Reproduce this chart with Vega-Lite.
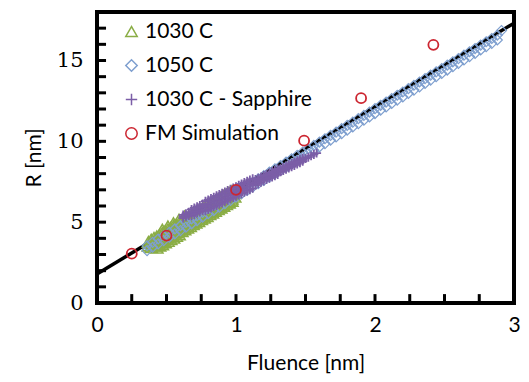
{
"$schema": "https://vega.github.io/schema/vega-lite/v6.json",
"width": 417, "height": 291,
"autosize": {"type": "none"},
"padding": {"left": 97, "top": 12, "right": 15, "bottom": 79},
"background": "white",
"config": {
  "view": {"stroke": "black", "strokeWidth": 4},
  "axis": {"grid": false, "domain": false, "ticks": false, "labelColor": "black", "titleColor": "black", "titleFontWeight": "normal", "labelFlush": false},
  "legend": {"labelFont": "Lato", "labelFontSize": 21, "labelColor": "black", "labelLimit": 400, "symbolStrokeWidth": 1.5, "symbolSize": 130, "rowPadding": 12, "labelOffset": 3, "padding": 0}
},
"datasets": {
  "fit": [{"x": 0, "y": 1.8}, {"x": 3, "y": 17.31}],
  "xt": [{"x":0.25,"y":0,"y2":0.55},{"x":0.5,"y":0,"y2":0.55},{"x":0.75,"y":0,"y2":0.55},{"x":1,"y":0,"y2":0.55},{"x":1.25,"y":0,"y2":0.55},{"x":1.5,"y":0,"y2":0.55},{"x":1.75,"y":0,"y2":0.55},{"x":2,"y":0,"y2":0.55},{"x":2.25,"y":0,"y2":0.55},{"x":2.5,"y":0,"y2":0.55},{"x":2.75,"y":0,"y2":0.55}],
  "yt": [{"y":1,"x":0,"x2":0.065},{"y":2,"x":0,"x2":0.065},{"y":3,"x":0,"x2":0.065},{"y":4,"x":0,"x2":0.065},{"y":5,"x":0,"x2":0.065},{"y":6,"x":0,"x2":0.065},{"y":7,"x":0,"x2":0.065},{"y":8,"x":0,"x2":0.065},{"y":9,"x":0,"x2":0.065},{"y":10,"x":0,"x2":0.065},{"y":11,"x":0,"x2":0.065},{"y":12,"x":0,"x2":0.065},{"y":13,"x":0,"x2":0.065},{"y":14,"x":0,"x2":0.065},{"y":15,"x":0,"x2":0.065},{"y":16,"x":0,"x2":0.065},{"y":17,"x":0,"x2":0.065}],
  "g": [
    {"x":0.37,"y":3.55},{"x":0.37,"y":3.78},
    {"x":0.39,"y":3.45},{"x":0.39,"y":3.70},{"x":0.39,"y":3.92},
    {"x":0.41,"y":3.55},{"x":0.41,"y":3.78},{"x":0.41,"y":4.02},
    {"x":0.43,"y":3.42},{"x":0.43,"y":3.65},{"x":0.43,"y":3.90},{"x":0.43,"y":4.12},
    {"x":0.45,"y":3.55},{"x":0.45,"y":3.74},{"x":0.45,"y":4.00},{"x":0.45,"y":4.22},
    {"x":0.47,"y":3.63},{"x":0.47,"y":3.86},{"x":0.47,"y":4.10},{"x":0.47,"y":4.33},{"x":0.47,"y":4.53},
    {"x":0.49,"y":3.75},{"x":0.49,"y":3.95},{"x":0.49,"y":4.20},{"x":0.49,"y":4.44},
    {"x":0.51,"y":3.84},{"x":0.51,"y":4.06},{"x":0.51,"y":4.30},{"x":0.51,"y":4.55},{"x":0.51,"y":4.74},
    {"x":0.53,"y":3.95},{"x":0.53,"y":4.16},{"x":0.53,"y":4.42},{"x":0.53,"y":4.64},
    {"x":0.55,"y":4.04},{"x":0.55,"y":4.26},{"x":0.55,"y":4.52},{"x":0.55,"y":4.75},{"x":0.55,"y":4.94},
    {"x":0.57,"y":4.15},{"x":0.57,"y":4.37},{"x":0.57,"y":4.62},{"x":0.57,"y":4.85},
    {"x":0.59,"y":4.25},{"x":0.59,"y":4.47},{"x":0.59,"y":4.73},{"x":0.59,"y":4.95},{"x":0.59,"y":5.15},
    {"x":0.61,"y":4.45},{"x":0.61,"y":4.58},{"x":0.61,"y":4.82},{"x":0.61,"y":5.06},
    {"x":0.63,"y":4.56},{"x":0.63,"y":4.68},{"x":0.63,"y":4.93},{"x":0.63,"y":5.16},{"x":0.63,"y":5.36},
    {"x":0.65,"y":4.66},{"x":0.65,"y":4.78},{"x":0.65,"y":5.03},{"x":0.65,"y":5.27},
    {"x":0.67,"y":4.76},{"x":0.67,"y":4.89},{"x":0.67,"y":5.13},{"x":0.67,"y":5.36},
    {"x":0.69,"y":4.87},{"x":0.69,"y":4.99},{"x":0.69,"y":5.24},{"x":0.69,"y":5.47},
    {"x":0.71,"y":4.97},{"x":0.71,"y":5.10},{"x":0.71,"y":5.34},{"x":0.71,"y":5.58},
    {"x":0.73,"y":5.07},{"x":0.73,"y":5.20},{"x":0.73,"y":5.45},{"x":0.73,"y":5.68},
    {"x":0.75,"y":5.18},{"x":0.75,"y":5.30},{"x":0.75,"y":5.55},{"x":0.75,"y":5.79},
    {"x":0.77,"y":5.28},{"x":0.77,"y":5.41},{"x":0.77,"y":5.65},{"x":0.77,"y":5.89},
    {"x":0.79,"y":5.38},{"x":0.79,"y":5.51},{"x":0.79,"y":5.76},{"x":0.79,"y":6.00},
    {"x":0.81,"y":5.49},{"x":0.81,"y":5.62},{"x":0.81,"y":5.86},{"x":0.81,"y":6.10},
    {"x":0.83,"y":5.59},{"x":0.83,"y":5.72},{"x":0.83,"y":5.96},{"x":0.83,"y":6.20},
    {"x":0.85,"y":5.70},{"x":0.85,"y":5.82},{"x":0.85,"y":6.07},{"x":0.85,"y":6.30},
    {"x":0.87,"y":5.80},{"x":0.87,"y":5.93},{"x":0.87,"y":6.17},{"x":0.87,"y":6.41},
    {"x":0.89,"y":5.90},{"x":0.89,"y":6.03},{"x":0.89,"y":6.28},{"x":0.89,"y":6.52},
    {"x":0.91,"y":6.01},{"x":0.91,"y":6.14},{"x":0.91,"y":6.38},{"x":0.91,"y":6.62},
    {"x":0.93,"y":6.11},{"x":0.93,"y":6.24},{"x":0.93,"y":6.48},{"x":0.93,"y":6.72},
    {"x":0.95,"y":6.21},{"x":0.95,"y":6.34},{"x":0.95,"y":6.59},{"x":0.95,"y":6.82},
    {"x":0.97,"y":6.32},{"x":0.97,"y":6.45},{"x":0.97,"y":6.70},{"x":0.97,"y":6.92},
    {"x":0.99,"y":6.58},{"x":0.99,"y":6.80}
  ],
  "b": [
    {"x":0.36,"y":3.24},{"x":0.36,"y":3.54},{"x":0.40,"y":3.45},{"x":0.40,"y":3.75},
    {"x":0.44,"y":3.66},{"x":0.44,"y":3.96},{"x":0.48,"y":3.86},{"x":0.48,"y":4.16},
    {"x":0.52,"y":4.07},{"x":0.52,"y":4.37},{"x":0.56,"y":4.28},{"x":0.56,"y":4.58},
    {"x":0.60,"y":4.48},{"x":0.60,"y":4.78},{"x":0.64,"y":4.69},{"x":0.64,"y":4.99},
    {"x":0.68,"y":4.90},{"x":0.68,"y":5.20},{"x":0.72,"y":5.10},{"x":0.72,"y":5.40},
    {"x":0.76,"y":5.31},{"x":0.76,"y":5.61},{"x":0.80,"y":5.52},{"x":0.80,"y":5.82},
    {"x":0.84,"y":5.72},{"x":0.84,"y":6.02},{"x":0.88,"y":5.93},{"x":0.88,"y":6.23},
    {"x":0.92,"y":6.14},{"x":0.92,"y":6.44},{"x":0.96,"y":6.34},{"x":0.96,"y":6.64},
    {"x":1.00,"y":6.55},{"x":1.00,"y":6.85},{"x":1.04,"y":6.76},{"x":1.04,"y":7.06},
    {"x":1.08,"y":6.96},{"x":1.08,"y":7.26},{"x":1.12,"y":7.17},{"x":1.12,"y":7.47},
    {"x":1.16,"y":7.38},{"x":1.16,"y":7.68},{"x":1.20,"y":7.58},{"x":1.20,"y":7.88},
    {"x":1.24,"y":7.79},{"x":1.24,"y":8.09},{"x":1.28,"y":8.00},{"x":1.28,"y":8.30},
    {"x":1.32,"y":8.20},{"x":1.32,"y":8.50},{"x":1.36,"y":8.41},{"x":1.36,"y":8.71},
    {"x":1.40,"y":8.62},{"x":1.40,"y":8.92},{"x":1.44,"y":8.83},{"x":1.44,"y":9.13},
    {"x":1.48,"y":9.03},{"x":1.48,"y":9.33},{"x":1.52,"y":9.24},{"x":1.52,"y":9.54},
    {"x":1.56,"y":9.45},{"x":1.56,"y":9.75},{"x":1.60,"y":9.65},{"x":1.60,"y":9.95},
    {"x":1.64,"y":9.86},{"x":1.64,"y":10.16},{"x":1.68,"y":10.07},{"x":1.68,"y":10.37},
    {"x":1.72,"y":10.27},{"x":1.72,"y":10.57},{"x":1.76,"y":10.48},{"x":1.76,"y":10.78},
    {"x":1.80,"y":10.69},{"x":1.80,"y":10.99},{"x":1.84,"y":10.89},{"x":1.84,"y":11.19},
    {"x":1.88,"y":11.10},{"x":1.88,"y":11.40},{"x":1.92,"y":11.31},{"x":1.92,"y":11.61},
    {"x":1.96,"y":11.51},{"x":1.96,"y":11.81},{"x":2.00,"y":11.72},{"x":2.00,"y":12.02},
    {"x":2.04,"y":11.93},{"x":2.04,"y":12.23},{"x":2.08,"y":12.13},{"x":2.08,"y":12.43},
    {"x":2.12,"y":12.34},{"x":2.12,"y":12.64},{"x":2.16,"y":12.55},{"x":2.16,"y":12.85},
    {"x":2.20,"y":12.75},{"x":2.20,"y":13.05},{"x":2.24,"y":12.96},{"x":2.24,"y":13.26},
    {"x":2.28,"y":13.17},{"x":2.28,"y":13.47},{"x":2.32,"y":13.37},{"x":2.32,"y":13.67},
    {"x":2.36,"y":13.58},{"x":2.36,"y":13.88},{"x":2.40,"y":13.79},{"x":2.40,"y":14.09},
    {"x":2.44,"y":14.00},{"x":2.44,"y":14.30},{"x":2.48,"y":14.20},{"x":2.48,"y":14.50},
    {"x":2.52,"y":14.41},{"x":2.52,"y":14.71},{"x":2.56,"y":14.62},{"x":2.56,"y":14.92},
    {"x":2.60,"y":14.82},{"x":2.60,"y":15.12},{"x":2.64,"y":15.03},{"x":2.64,"y":15.33},
    {"x":2.68,"y":15.24},{"x":2.68,"y":15.54},{"x":2.72,"y":15.44},{"x":2.72,"y":15.74},
    {"x":2.76,"y":15.65},{"x":2.76,"y":15.95},{"x":2.80,"y":15.86},{"x":2.80,"y":16.16},
    {"x":2.84,"y":16.06},{"x":2.84,"y":16.36},{"x":2.88,"y":16.27},{"x":2.88,"y":16.57},
    {"x":2.91,"y":16.85}
  ],
  "p": [
    {"x":0.62,"y":5.25},{"x":0.62,"y":5.35},{"x":0.62,"y":5.45},
    {"x":0.64,"y":5.33},{"x":0.64,"y":5.43},{"x":0.64,"y":5.53},
    {"x":0.66,"y":5.41},{"x":0.66,"y":5.51},{"x":0.66,"y":5.61},
    {"x":0.68,"y":5.39},{"x":0.68,"y":5.59},{"x":0.68,"y":5.79},
    {"x":0.70,"y":5.48},{"x":0.70,"y":5.68},{"x":0.70,"y":5.88},
    {"x":0.72,"y":5.56},{"x":0.72,"y":5.76},{"x":0.72,"y":5.96},
    {"x":0.74,"y":5.64},{"x":0.74,"y":5.84},{"x":0.74,"y":6.04},
    {"x":0.76,"y":5.72},{"x":0.76,"y":5.92},{"x":0.76,"y":6.12},
    {"x":0.78,"y":5.70},{"x":0.78,"y":6.00},{"x":0.78,"y":6.30},
    {"x":0.80,"y":5.78},{"x":0.80,"y":6.08},{"x":0.80,"y":6.38},
    {"x":0.82,"y":5.87},{"x":0.82,"y":6.17},{"x":0.82,"y":6.47},
    {"x":0.84,"y":5.95},{"x":0.84,"y":6.25},{"x":0.84,"y":6.55},
    {"x":0.86,"y":6.03},{"x":0.86,"y":6.33},{"x":0.86,"y":6.63},
    {"x":0.88,"y":6.11},{"x":0.88,"y":6.41},{"x":0.88,"y":6.71},
    {"x":0.90,"y":6.19},{"x":0.90,"y":6.49},{"x":0.90,"y":6.79},
    {"x":0.92,"y":6.27},{"x":0.92,"y":6.57},{"x":0.92,"y":6.87},
    {"x":0.94,"y":6.36},{"x":0.94,"y":6.66},{"x":0.94,"y":6.96},
    {"x":0.96,"y":6.44},{"x":0.96,"y":6.74},{"x":0.96,"y":7.04},
    {"x":0.98,"y":6.52},{"x":0.98,"y":6.82},{"x":0.98,"y":7.12},
    {"x":1.00,"y":6.60},{"x":1.00,"y":6.90},{"x":1.00,"y":7.20},
    {"x":1.02,"y":6.68},{"x":1.02,"y":6.98},{"x":1.02,"y":7.28},
    {"x":1.04,"y":6.76},{"x":1.04,"y":7.06},{"x":1.04,"y":7.36},
    {"x":1.06,"y":6.85},{"x":1.06,"y":7.15},{"x":1.06,"y":7.45},
    {"x":1.08,"y":6.93},{"x":1.08,"y":7.23},{"x":1.08,"y":7.53},
    {"x":1.10,"y":7.01},{"x":1.10,"y":7.31},{"x":1.10,"y":7.61},
    {"x":1.12,"y":7.09},{"x":1.12,"y":7.39},{"x":1.12,"y":7.69},
    {"x":1.14,"y":7.30},{"x":1.14,"y":7.47},{"x":1.14,"y":7.64},
    {"x":1.16,"y":7.38},{"x":1.16,"y":7.55},{"x":1.16,"y":7.72},
    {"x":1.18,"y":7.46},{"x":1.18,"y":7.63},{"x":1.18,"y":7.80},
    {"x":1.20,"y":7.55},{"x":1.20,"y":7.72},{"x":1.20,"y":7.89},
    {"x":1.22,"y":7.63},{"x":1.22,"y":7.80},{"x":1.22,"y":7.97},
    {"x":1.24,"y":7.71},{"x":1.24,"y":7.88},{"x":1.24,"y":8.05},
    {"x":1.26,"y":7.79},{"x":1.26,"y":7.96},{"x":1.26,"y":8.13},
    {"x":1.28,"y":7.87},{"x":1.28,"y":8.04},{"x":1.28,"y":8.21},
    {"x":1.30,"y":7.95},{"x":1.30,"y":8.12},{"x":1.30,"y":8.29},
    {"x":1.32,"y":8.11},{"x":1.32,"y":8.21},{"x":1.32,"y":8.31},
    {"x":1.34,"y":8.19},{"x":1.34,"y":8.29},{"x":1.34,"y":8.39},
    {"x":1.36,"y":8.27},{"x":1.36,"y":8.37},{"x":1.36,"y":8.47},
    {"x":1.38,"y":8.35},{"x":1.38,"y":8.45},{"x":1.38,"y":8.55},
    {"x":1.40,"y":8.43},{"x":1.40,"y":8.53},{"x":1.40,"y":8.63},
    {"x":1.42,"y":8.51},{"x":1.42,"y":8.61},{"x":1.42,"y":8.71},
    {"x":1.44,"y":8.60},{"x":1.44,"y":8.70},{"x":1.44,"y":8.80},
    {"x":1.46,"y":8.68},{"x":1.46,"y":8.78},{"x":1.46,"y":8.88},
    {"x":1.48,"y":8.76},{"x":1.48,"y":8.86},{"x":1.48,"y":8.96},
    {"x":1.50,"y":8.94},{"x":1.52,"y":9.02},{"x":1.54,"y":9.10},
    {"x":1.56,"y":9.19},{"x":1.58,"y":9.27}
  ],
  "fm": [
    {"x":0.25,"y":3.05},{"x":0.50,"y":4.17},{"x":1.00,"y":7.00},
    {"x":1.49,"y":10.04},{"x":1.90,"y":12.67},{"x":2.42,"y":15.97}
  ]
},
"encoding": {
  "x": {"field": "x", "type": "quantitative", "scale": {"domain": [0, 3], "nice": false},
    "axis": {"title": "Fluence [nm]", "values": [0,1,2,3], "format": "d",
      "labelFont": "Lato", "labelFontSize": 21, "labelPadding": 11,
      "titleFont": "Lato", "titleFontSize": 21, "titlePadding": 17}},
  "y": {"field": "y", "type": "quantitative", "scale": {"domain": [0, 18], "nice": false},
    "axis": {"title": "R [nm]", "values": [0,5,10,15], "format": "d",
      "labelFont": "DejaVu Serif", "labelFontSize": 21, "labelPadding": 14,
      "titleFont": "Lato", "titleFontSize": 21, "titlePadding": 12}}
},
"layer": [
  {"data": {"name": "fit"}, "mark": {"type": "line", "color": "black", "strokeWidth": 3.5}, "encoding": {}},
  {"data": {"name": "g"}, "mark": {"type": "point", "filled": false, "size": 150, "strokeWidth": 1.6, "opacity": 1},
   "encoding": {
     "color": {"datum": "1030 C", "type": "nominal", "scale": {"domain": ["1030 C", "1050 C", "1030 C - Sapphire", "FM Simulation"], "range": ["#8AAD45", "#7E9FCF", "#7B5EA7", "#CC2631"]},
       "legend": {"title": null, "orient": "none", "legendX": 24, "legendY": 9}},
     "shape": {"datum": "1030 C", "type": "nominal", "scale": {"domain": ["1030 C", "1050 C", "1030 C - Sapphire", "FM Simulation"], "range": ["triangle-up", "diamond", "M-1,0H1M0,-1V1", "circle"]},
       "legend": {"title": null, "orient": "none", "legendX": 24, "legendY": 9}}
   }},
  {"data": {"name": "b"}, "mark": {"type": "point", "filled": false, "size": 100, "strokeWidth": 1.2, "opacity": 1},
   "encoding": {"color": {"datum": "1050 C", "type": "nominal"}, "shape": {"datum": "1050 C", "type": "nominal"}}},
  {"data": {"name": "p"}, "mark": {"type": "point", "filled": false, "size": 80, "strokeWidth": 1.8, "opacity": 1},
   "encoding": {"color": {"datum": "1030 C - Sapphire", "type": "nominal"}, "shape": {"datum": "1030 C - Sapphire", "type": "nominal"}}},
  {"data": {"name": "fm"}, "mark": {"type": "point", "filled": false, "size": 100, "strokeWidth": 1.8, "opacity": 1},
   "encoding": {"color": {"datum": "FM Simulation", "type": "nominal"}, "shape": {"datum": "FM Simulation", "type": "nominal"}}},
  {"data": {"name": "xt"}, "mark": {"type": "rule", "stroke": "#000000", "strokeWidth": 3, "opacity": 1},
   "encoding": {"y2": {"field": "y2"}}},
  {"data": {"name": "yt"}, "mark": {"type": "rule", "stroke": "#000000", "strokeWidth": 3, "opacity": 1},
   "encoding": {"x2": {"field": "x2"}}}
]
}
